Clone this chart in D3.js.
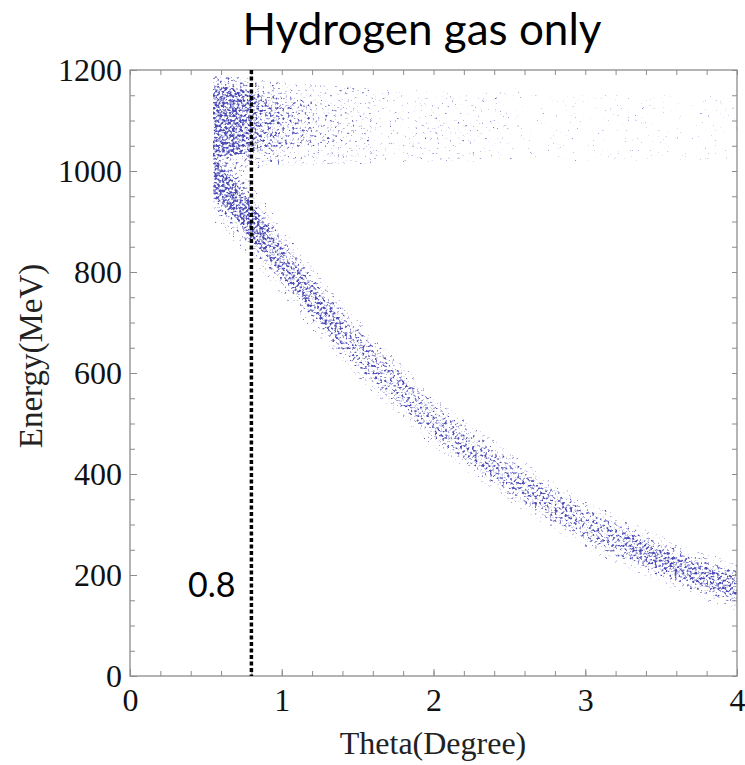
<!DOCTYPE html>
<html>
<head>
<meta charset="utf-8">
<script src="https://cdn.jsdelivr.net/npm/d3@7"></script>
<style>
  html, body { margin: 0; padding: 0; background: #fff; }
  svg { display: block; }
</style>
</head>
<body>
<svg id="chart" width="745" height="765"></svg>
<script>
// ---------------- data ----------------
const titleText = "Hydrogen gas only";
const xLabel = "Theta(Degree)";
const yLabel = "Energy(MeV)";
const thetaTicks = [0, 1, 2, 3, 4];
const energyTicks = [0, 200, 400, 600, 800, 1000, 1200];
const cutTheta = 0.8;
const cutLabel = "0.8";

// lower (elastic) band: centre line and half width in MeV
const bandTheta      = [0.55, 0.6, 0.7, 0.8, 0.9, 1.0, 1.2, 1.4, 1.6, 1.8, 2.0, 2.25, 2.5, 2.75, 3.0, 3.25, 3.5, 3.75, 4.0];
const bandCenter     = [992, 975, 940, 900, 862, 822, 748, 680, 618, 562, 505, 448, 395, 345, 300, 264, 230, 200, 176];
const bandHalfWidth  = [60, 58, 55, 50, 46, 43, 40, 38, 36, 34, 33, 32, 32, 31, 31, 31, 31, 31, 31];
// density level of the band core between consecutive bandTheta values
const bandCoreLevel  = [7, 7, 7, 7, 6, 6, 6, 5, 5, 5, 5, 5, 5, 5, 5, 6, 6, 6];

// upper cluster (~1100 MeV): outer envelope
const upperTheta = [0.55, 0.8, 1.0, 1.3, 1.6, 2.0, 2.5, 3.0, 3.5, 4.0];
const upperLow   = [1000, 1005, 1010, 1012, 1015, 1018, 1020, 1020, 1022, 1022];
const upperHigh  = [1188, 1182, 1175, 1168, 1162, 1158, 1155, 1152, 1150, 1148];
const upperLevel = [4, 3, 2, 2, 1, 1, 0, 0, 0];

// upper cluster: dense core
const upperCoreTheta = [0.55, 0.65, 0.75, 0.85, 1.0, 1.2, 1.4, 1.6];
const upperCoreLow   = [1030, 1030, 1034, 1040, 1045, 1050, 1055, 1058];
const upperCoreHigh  = [1168, 1166, 1160, 1152, 1145, 1138, 1132, 1128];
const upperCoreLevel = [7, 7, 6, 5, 4, 3, 2];

// ---------------- layout ----------------
const svg = d3.select("#chart");
const x = d3.scaleLinear().domain([0, 4]).range([130, 737]);
const y = d3.scaleLinear().domain([0, 1200]).range([676, 70]);
const dotColor = "#4c4cb6";
const frameColor = "#8c8c8c";
const serif = "Liberation Serif, Times New Roman, serif";
const sans = "Lato, Open Sans, sans-serif";
// density painted per level (grey value), turned into speckles by the filter
const levelDensity = [0.27, 0.31, 0.35, 0.40, 0.45, 0.50, 0.55, 0.60];

const defs = svg.append("defs");
defs.append("clipPath").attr("id", "plotClip")
  .append("rect").attr("x", x(0)).attr("y", y(1200))
  .attr("width", x(4) - x(0)).attr("height", y(0) - y(1200));

// speckle filter: density map + noise, thresholded, coloured
{
  const k = 4.5;
  const table = d3.range(0, 1.0001, 0.01)
    .map(v => Math.max(0, Math.min(1, 2 * k * (v - 0.5))).toFixed(3)).join(" ");
  const f = defs.append("filter").attr("id", "speckle")
    .attr("filterUnits", "userSpaceOnUse")
    .attr("x", x(0)).attr("y", y(1200))
    .attr("width", x(4) - x(0)).attr("height", y(0) - y(1200))
    .attr("color-interpolation-filters", "sRGB");
  f.append("feColorMatrix").attr("in", "SourceGraphic").attr("type", "matrix")
    .attr("values", "0 0 0 0 0  0 0 0 0 0  0 0 0 0 0  1 0 0 0 0").attr("result", "dens");
  f.append("feTurbulence").attr("type", "fractalNoise")
    .attr("baseFrequency", 0.4).attr("numOctaves", 2).attr("seed", 11).attr("result", "noise");
  f.append("feColorMatrix").attr("in", "noise").attr("type", "matrix")
    .attr("values", "0 0 0 0 0  0 0 0 0 0  0 0 0 0 0  1 0 0 0 0").attr("result", "nA");
  f.append("feComposite").attr("in", "nA").attr("in2", "dens").attr("operator", "arithmetic")
    .attr("k1", 0).attr("k2", 0.5).attr("k3", 0.5).attr("k4", 0).attr("result", "sum");
  const ct = f.append("feComponentTransfer").attr("in", "sum").attr("result", "mask");
  ct.append("feFuncA").attr("type", "table").attr("tableValues", table);
  f.append("feFlood").attr("flood-color", dotColor).attr("result", "col");
  f.append("feComposite").attr("in", "col").attr("in2", "mask").attr("operator", "in");
}

const plotClip = svg.append("g").attr("clip-path", "url(#plotClip)");
const plot = plotClip.append("g").attr("filter", "url(#speckle)").style("isolation", "isolate");

function drawZone(th, lo, hi, lvl) {
  const pts = th.map((t, i) => ({ t, lo: lo[i], hi: hi[i] }));
  const area = d3.area().x(d => x(d.t)).y0(d => y(d.lo)).y1(d => y(d.hi)).curve(d3.curveLinear);
  const g = Math.round(levelDensity[lvl] * 255);
  plot.append("path").datum(pts).attr("d", area)
    .attr("fill", `rgb(${g},${g},${g})`).style("mix-blend-mode", "lighten");
}
function drawSegments(th, lo, hi, levels) {
  for (let i = 0; i < levels.length; i++) {
    drawZone(th.slice(i, i + 2), lo.slice(i, i + 2), hi.slice(i, i + 2), levels[i]);
  }
}

// lower band: halo, body, core
const lowOf = f => bandCenter.map((c, i) => c - f * bandHalfWidth[i]);
const highOf = f => bandCenter.map((c, i) => c + f * bandHalfWidth[i]);
drawZone(bandTheta, lowOf(1.5), highOf(1.5), 2);
drawZone(bandTheta, lowOf(1.05), highOf(1.05), 4);
drawSegments(bandTheta, lowOf(0.65), highOf(0.65), bandCoreLevel);

// upper cluster
drawSegments(upperTheta, upperLow, upperHigh, upperLevel);
drawSegments(upperCoreTheta, upperCoreLow, upperCoreHigh, upperCoreLevel);

// ---------------- frame and ticks ----------------
const minorX = d3.range(0, 4.001, 0.2);
const minorY = d3.range(0, 1200.1, 50);
function styleAxis(g) {
  g.select(".domain").remove();
  g.selectAll(".tick line").attr("stroke", frameColor).attr("stroke-width", 1);
}
svg.append("g").attr("transform", `translate(0,${y(0)})`)
  .call(d3.axisBottom(x).tickValues(minorX).tickSize(-5).tickFormat(""))
  .call(styleAxis);
svg.append("g").attr("transform", `translate(0,${y(1200)})`)
  .call(d3.axisTop(x).tickValues(minorX).tickSize(-5).tickFormat(""))
  .call(styleAxis);
svg.append("g").attr("transform", `translate(${x(0)},0)`)
  .call(d3.axisLeft(y).tickValues(minorY).tickSize(-5).tickFormat(""))
  .call(styleAxis);
svg.append("g").attr("transform", `translate(${x(4)},0)`)
  .call(d3.axisRight(y).tickValues(minorY).tickSize(-5).tickFormat(""))
  .call(styleAxis);

// labelled axes
const xAxis = svg.append("g").attr("transform", `translate(0,${y(0)})`)
  .call(d3.axisBottom(x).tickValues(thetaTicks).tickSize(-7).tickPadding(12).tickFormat(d3.format("d")))
  .call(styleAxis);
xAxis.selectAll("text").attr("font-family", serif).attr("font-size", 32).attr("fill", "#111");
const yAxis = svg.append("g").attr("transform", `translate(${x(0)},0)`)
  .call(d3.axisLeft(y).tickValues(energyTicks).tickSize(-7).tickPadding(8).tickFormat(d3.format("d")))
  .call(styleAxis);
yAxis.selectAll("text").attr("font-family", serif).attr("font-size", 32).attr("fill", "#111");

svg.append("rect").attr("x", x(0)).attr("y", y(1200))
  .attr("width", x(4) - x(0)).attr("height", y(0) - y(1200))
  .attr("fill", "none").attr("stroke", frameColor).attr("stroke-width", 1.3);

// cut line
svg.append("line").attr("x1", x(cutTheta)).attr("x2", x(cutTheta))
  .attr("y1", y(1200)).attr("y2", y(0))
  .attr("stroke", "#000").attr("stroke-width", 3.5).attr("stroke-dasharray", "4,2.5");
svg.append("text").attr("x", x(cutTheta) - 16).attr("y", 597)
  .attr("text-anchor", "end").attr("font-family", sans)
  .attr("font-size", 34).attr("fill", "#000").text(cutLabel);

// titles
svg.append("text").attr("x", 422).attr("y", 45).attr("text-anchor", "middle")
  .attr("font-family", sans).attr("font-size", 44)
  .attr("fill", "#000").text(titleText);
svg.append("text").attr("x", 433).attr("y", 754).attr("text-anchor", "middle")
  .attr("font-family", serif).attr("font-size", 32)
  .attr("fill", "#222").text(xLabel);
svg.append("text").attr("transform", "translate(42,356) rotate(-90)").attr("text-anchor", "middle")
  .attr("font-family", serif).attr("font-size", 33)
  .attr("fill", "#222").text(yLabel);
</script>
</body>
</html>
